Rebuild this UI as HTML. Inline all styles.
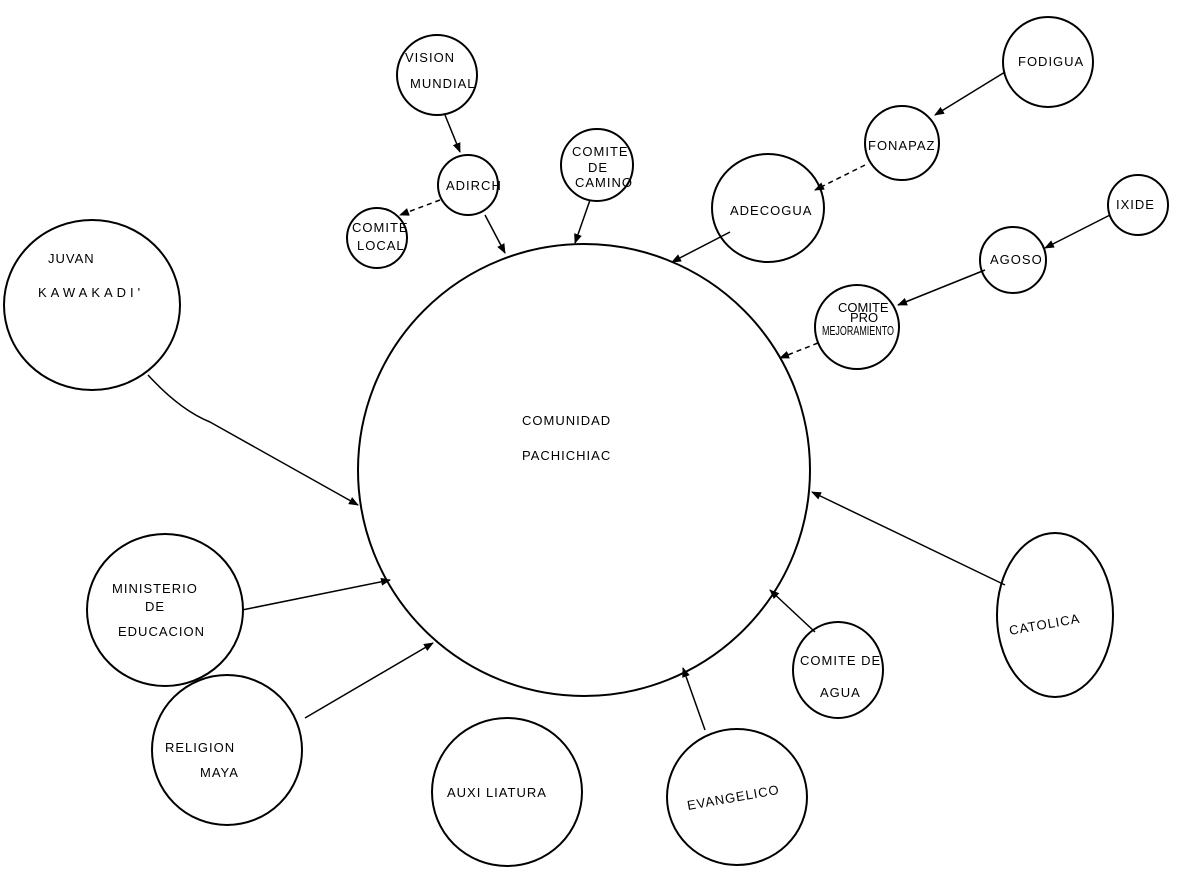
<!DOCTYPE html>
<html><head><meta charset="utf-8"><style>
html,body{margin:0;padding:0;background:#fff}
svg{display:block}
text{font-family:"Liberation Sans",sans-serif;font-size:13px;fill:#000;letter-spacing:1px}
</style></head><body>
<svg width="1178" height="870" viewBox="0 0 1178 870" xmlns="http://www.w3.org/2000/svg">
<defs><marker id="a" markerWidth="10" markerHeight="8" refX="9" refY="4" orient="auto" markerUnits="userSpaceOnUse"><path d="M0,0 L10,4 L0,8 z" fill="#000"/></marker></defs>
<g fill="none" stroke="#000" stroke-width="2">
<ellipse cx="584" cy="470" rx="226" ry="226"/>
<circle cx="437" cy="75" r="40"/>
<circle cx="468" cy="185" r="30"/>
<circle cx="377" cy="238" r="30"/>
<circle cx="597" cy="165" r="36"/>
<circle cx="1048" cy="62" r="45"/>
<circle cx="902" cy="143" r="37"/>
<ellipse cx="768" cy="208" rx="56" ry="54"/>
<circle cx="1138" cy="205" r="30"/>
<circle cx="1013" cy="260" r="33"/>
<circle cx="857" cy="327" r="42"/>
<ellipse cx="92" cy="305" rx="88" ry="85"/>
<ellipse cx="165" cy="610" rx="78" ry="76"/>
<ellipse cx="227" cy="750" rx="75" ry="75"/>
<ellipse cx="507" cy="792" rx="75" ry="74"/>
<ellipse cx="737" cy="797" rx="70" ry="68"/>
<ellipse cx="838" cy="670" rx="45" ry="48"/>
<ellipse cx="1055" cy="615" rx="58" ry="82"/>
</g>
<g fill="none" stroke="#000" stroke-width="1.5" marker-end="url(#a)">
<path d="M445,115 L460,152"/>
<path d="M440,200 L400,215" stroke-dasharray="5,4"/>
<path d="M485,215 L505,253"/>
<path d="M590,200 L575,243"/>
<path d="M1005,72 L935,115"/>
<path d="M865,165 L815,190" stroke-dasharray="5,4"/>
<path d="M730,232 L672,262"/>
<path d="M1110,215 L1045,248"/>
<path d="M985,270 L898,305"/>
<path d="M818,343 L780,358" stroke-dasharray="5,4"/>
<path d="M148,375 Q180,410 210,422 L358,505"/>
<path d="M242,610 L390,580"/>
<path d="M305,718 L433,643"/>
<path d="M1005,585 L812,492"/>
<path d="M705,730 L683,668"/>
<path d="M815,632 L770,590"/>
</g>
<g>
<text x="405" y="62" font-size="10">VISION</text>
<text x="410" y="88" font-size="10">MUNDIAL</text>
<text x="446" y="190" font-size="10">ADIRCH</text>
<text x="352" y="232" font-size="9">COMITE</text>
<text x="357" y="250" font-size="9">LOCAL</text>
<text x="572" y="156" font-size="9">COMITE</text>
<text x="588" y="172" font-size="9">DE</text>
<text x="575" y="187" font-size="9">CAMINO</text>
<text x="1018" y="66" font-size="11">FODIGUA</text>
<text x="868" y="150" font-size="10">FONAPAZ</text>
<text x="730" y="215" font-size="15">ADECOGUA</text>
<text x="1116" y="209" font-size="10">IXIDE</text>
<text x="990" y="264" font-size="10">AGOSO</text>
<text x="838" y="312" font-size="9" style="letter-spacing:0">COMITE</text>
<text x="850" y="322" font-size="8" style="letter-spacing:0">PRO</text>
<text x="822" y="335" font-size="8" style="letter-spacing:0" textLength="72" lengthAdjust="spacingAndGlyphs">MEJORAMIENTO</text>
<text x="48" y="263" font-size="12">JUVAN</text>
<text x="38" y="297" font-size="12" style="letter-spacing:4px">KAWAKADI'</text>
<text x="522" y="425" font-size="14">COMUNIDAD</text>
<text x="522" y="460" font-size="14">PACHICHIAC</text>
<text x="112" y="593" font-size="12">MINISTERIO</text>
<text x="145" y="611" font-size="12">DE</text>
<text x="118" y="636" font-size="12">EDUCACION</text>
<text x="165" y="752" font-size="13">RELIGION</text>
<text x="200" y="777" font-size="13">MAYA</text>
<text x="447" y="797" font-size="13">AUXI LIATURA</text>
<text x="688" y="810" font-size="13" transform="rotate(-10 688 810)">EVANGELICO</text>
<text x="800" y="665" font-size="10">COMITE DE</text>
<text x="820" y="697" font-size="10">AGUA</text>
<text x="1010" y="635" font-size="13" transform="rotate(-10 1010 635)">CATOLICA</text>
</g>
</svg>
</body></html>
